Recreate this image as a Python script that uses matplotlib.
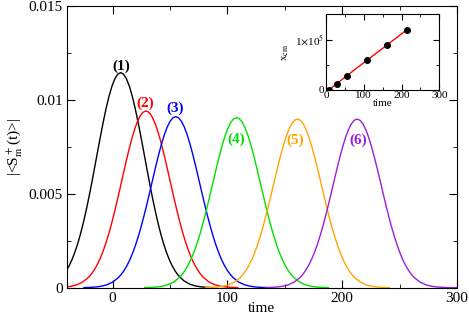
import matplotlib
matplotlib.use("Agg")
import matplotlib.pyplot as plt
from matplotlib.ticker import FuncFormatter, MultipleLocator, FixedLocator, FixedFormatter

plt.rcParams['font.family'] = ['Liberation Serif', 'DejaVu Serif']
plt.rcParams['mathtext.fontset'] = 'stix'

# pulses |<S_m^+(t)>|, one curve per site m
t1 = [-73, -68, -63, -58, -53, -48, -43, -40.5, -38, -35.5, -33, -30.5, -28, -25.5, -23, -20.5,
      -18, -15.5, -13, -10.5, -8, -5.5, -3, -0.5, 2, 4.5, 7, 9.5, 12, 14.5, 17, 19.5, 22, 24.5,
      27, 29.5, 32, 34.5, 37, 39.5, 42, 44.5, 47, 49.5, 52, 54.5, 57, 62, 67, 72, 77, 82, 87]
s1 = [0.000008, 0.000019, 0.000044, 0.000095, 0.000193, 0.000371, 0.000672, 0.000886, 0.001152,
      0.001476, 0.001864, 0.002323, 0.002853, 0.003454, 0.004123, 0.004853, 0.005632, 0.006444,
      0.007269, 0.008084, 0.008863, 0.009583, 0.010214, 0.010733, 0.011120, 0.011359, 0.01144,
      0.011359, 0.011120, 0.010733, 0.010214, 0.009583, 0.008863, 0.008084, 0.007269, 0.006444,
      0.005632, 0.004853, 0.004123, 0.003454, 0.002853, 0.002323, 0.001864, 0.001476, 0.001152,
      0.000886, 0.000672, 0.000371, 0.000193, 0.000095, 0.000044, 0.000019, 0.000008]

t2 = [-51, -46, -41, -36, -31, -26, -21, -18.5, -16, -13.5, -11, -8.5, -6, -3.5, -1, 1.5, 4,
      6.5, 9, 11.5, 14, 16.5, 19, 21.5, 24, 26.5, 29, 31.5, 34, 36.5, 39, 41.5, 44, 46.5, 49,
      51.5, 54, 56.5, 59, 61.5, 64, 66.5, 69, 71.5, 74, 76.5, 79, 84, 89, 94, 99, 104, 109]
s2 = [0.000007, 0.000016, 0.000036, 0.000078, 0.000159, 0.000304, 0.000552, 0.000728, 0.000946,
      0.001213, 0.001532, 0.001908, 0.002344, 0.002838, 0.003388, 0.003988, 0.004628, 0.005295,
      0.005973, 0.006643, 0.007283, 0.007874, 0.008392, 0.008819, 0.009137, 0.009334, 0.0094,
      0.009334, 0.009137, 0.008819, 0.008392, 0.007874, 0.007283, 0.006643, 0.005973, 0.005295,
      0.004628, 0.003988, 0.003388, 0.002838, 0.002344, 0.001908, 0.001532, 0.001213, 0.000946,
      0.000728, 0.000552, 0.000304, 0.000159, 0.000078, 0.000036, 0.000016, 0.000007]

t3 = [-25, -20, -15, -10, -5, 0, 5, 7.5, 10, 12.5, 15, 17.5, 20, 22.5, 25, 27.5, 30, 32.5, 35,
      37.5, 40, 42.5, 45, 47.5, 50, 52.5, 55, 57.5, 60, 62.5, 65, 67.5, 70, 72.5, 75, 77.5, 80,
      82.5, 85, 87.5, 90, 92.5, 95, 97.5, 100, 102.5, 105, 110, 115, 120, 125, 130, 135]
s3 = [0.000006, 0.000015, 0.000035, 0.000076, 0.000154, 0.000295, 0.000535, 0.000705, 0.000916,
      0.001174, 0.001483, 0.001848, 0.002269, 0.002747, 0.003280, 0.003861, 0.004480, 0.005126,
      0.005782, 0.006431, 0.007050, 0.007623, 0.008125, 0.008538, 0.008846, 0.009036, 0.0091,
      0.009036, 0.008846, 0.008538, 0.008125, 0.007623, 0.007050, 0.006431, 0.005782, 0.005126,
      0.004480, 0.003861, 0.003280, 0.002747, 0.002269, 0.001848, 0.001483, 0.001174, 0.000916,
      0.000705, 0.000535, 0.000295, 0.000154, 0.000076, 0.000035, 0.000015, 0.000006]

t4 = [28, 33, 38, 43, 48, 53, 58, 60.5, 63, 65.5, 68, 70.5, 73, 75.5, 78, 80.5, 83, 85.5, 88,
      90.5, 93, 95.5, 98, 100.5, 103, 105.5, 108, 110.5, 113, 115.5, 118, 120.5, 123, 125.5, 128,
      130.5, 133, 135.5, 138, 140.5, 143, 145.5, 148, 150.5, 153, 155.5, 158, 163, 168, 173, 178,
      183, 188]
s4 = [0.000006, 0.000015, 0.000035, 0.000075, 0.000153, 0.000293, 0.000532, 0.000701, 0.000911,
      0.001168, 0.001475, 0.001837, 0.002257, 0.002732, 0.003262, 0.003839, 0.004456, 0.005098,
      0.005750, 0.006395, 0.007012, 0.007581, 0.008080, 0.008491, 0.008797, 0.008986, 0.00905,
      0.008986, 0.008797, 0.008491, 0.008080, 0.007581, 0.007012, 0.006395, 0.005750, 0.005098,
      0.004456, 0.003839, 0.003262, 0.002732, 0.002257, 0.001837, 0.001475, 0.001168, 0.000911,
      0.000701, 0.000532, 0.000293, 0.000153, 0.000075, 0.000035, 0.000015, 0.000006]

t5 = [81, 86, 91, 96, 101, 106, 111, 113.5, 116, 118.5, 121, 123.5, 126, 128.5, 131, 133.5, 136,
      138.5, 141, 143.5, 146, 148.5, 151, 153.5, 156, 158.5, 161, 163.5, 166, 168.5, 171, 173.5,
      176, 178.5, 181, 183.5, 186, 188.5, 191, 193.5, 196, 198.5, 201, 203.5, 206, 208.5, 211,
      216, 221, 226, 231, 236, 241]
s5 = [0.000006, 0.000015, 0.000035, 0.000075, 0.000151, 0.000291, 0.000527, 0.000695, 0.000903,
      0.001157, 0.001462, 0.001821, 0.002237, 0.002708, 0.003233, 0.003805, 0.004416, 0.005053,
      0.005699, 0.006339, 0.006950, 0.007514, 0.008009, 0.008416, 0.008719, 0.008907, 0.00897,
      0.008907, 0.008719, 0.008416, 0.008009, 0.007514, 0.006950, 0.006339, 0.005699, 0.005053,
      0.004416, 0.003805, 0.003233, 0.002708, 0.002237, 0.001821, 0.001462, 0.001157, 0.000903,
      0.000695, 0.000527, 0.000291, 0.000151, 0.000075, 0.000035, 0.000015, 0.000006]

t6 = [133, 138, 143, 148, 153, 158, 163, 165.5, 168, 170.5, 173, 175.5, 178, 180.5, 183, 185.5,
      188, 190.5, 193, 195.5, 198, 200.5, 203, 205.5, 208, 210.5, 213, 215.5, 218, 220.5, 223,
      225.5, 228, 230.5, 233, 235.5, 238, 240.5, 243, 245.5, 248, 250.5, 253, 255.5, 258, 260.5,
      263, 268, 273, 278, 283, 288, 293, 303]
s6 = [0.000006, 0.000015, 0.000035, 0.000075, 0.000151, 0.000291, 0.000527, 0.000695, 0.000903,
      0.001157, 0.001462, 0.001821, 0.002237, 0.002708, 0.003233, 0.003805, 0.004416, 0.005053,
      0.005699, 0.006339, 0.006950, 0.007514, 0.008009, 0.008416, 0.008719, 0.008907, 0.00897,
      0.008907, 0.008719, 0.008416, 0.008009, 0.007514, 0.006950, 0.006339, 0.005699, 0.005053,
      0.004416, 0.003805, 0.003233, 0.002708, 0.002237, 0.001821, 0.001462, 0.001157, 0.000903,
      0.000695, 0.000527, 0.000291, 0.000151, 0.000075, 0.000035, 0.000015, 0.000006, 0.0000025]

labels = ['(1)', '(2)', '(3)', '(4)', '(5)', '(6)']
label_t = [7.8, 28.7, 54.8, 107.8, 159, 214]
label_s = [0.0118, 0.00982, 0.00956, 0.00791, 0.00786, 0.00786]
colors = ['black', 'red', 'blue', '#00e000', 'orange', '#9a1fd8']

# inset: pulse centre x_cm versus time
t_cm = [7, 28.7, 54.8, 107.8, 161, 213.3]
x_cm = [0, 0.124e5, 0.28e5, 0.585e5, 0.888e5, 1.19e5]

fig = plt.figure(figsize=(4.69, 3.18), dpi=100)
ax = fig.add_axes([0.1422, 0.0953, 0.8322, 0.8867])

curves = [(t1, s1), (t2, s2), (t3, s3), (t4, s4), (t5, s5), (t6, s6)]
for i in range(6):
    ax.plot(curves[i][0], curves[i][1], color=colors[i], lw=1.0)
    ax.text(label_t[i], label_s[i], labels[i], color=colors[i], fontsize=11,
            fontweight='bold', ha='center', va='center')

ax.set_xlim(-40, 300)
ax.set_ylim(0, 0.015)
ax.xaxis.set_major_locator(MultipleLocator(100))
ax.xaxis.set_minor_locator(MultipleLocator(50))
ax.yaxis.set_major_locator(MultipleLocator(0.005))
ax.yaxis.set_minor_locator(MultipleLocator(0.0025))
ax.yaxis.set_major_formatter(FuncFormatter(lambda v, p: '{:g}'.format(round(v, 4))))
ax.tick_params(which='both', direction='in', top=True, right=True, labelsize=11, pad=3)
ax.tick_params(which='major', length=6)
ax.tick_params(which='minor', length=3)
ax.set_xlabel('time', fontsize=11, labelpad=-2)
ax.set_ylabel(r'|<S$_{\mathrm{m}}^{\,+}$(t)>|', fontsize=11, labelpad=2)

ins = fig.add_axes([0.695, 0.717, 0.2417, 0.238])
ins.plot(t_cm, x_cm, color='red', lw=1.0)
ins.plot(t_cm, x_cm, 'o', color='black', ms=4)
ins.set_xlim(0, 300)
ins.set_ylim(0, 1.5e5)
ins.xaxis.set_major_locator(MultipleLocator(100))
ins.xaxis.set_minor_locator(MultipleLocator(50))
ins.yaxis.set_major_locator(FixedLocator([0, 1e5]))
ins.yaxis.set_major_formatter(FixedFormatter(['0', r'1$\times$10$^5$']))
ins.yaxis.set_minor_locator(MultipleLocator(0.5e5))
ins.tick_params(which='both', direction='in', top=True, right=True, labelsize=8, pad=1)
ins.tick_params(which='major', length=4)
ins.tick_params(which='minor', length=2)
ins.set_xlabel('time', fontsize=8, labelpad=-1)
ins.set_ylabel(r'x$_{\rm cm}$', fontsize=8, labelpad=3)

fig.savefig('out.png', dpi=100)
